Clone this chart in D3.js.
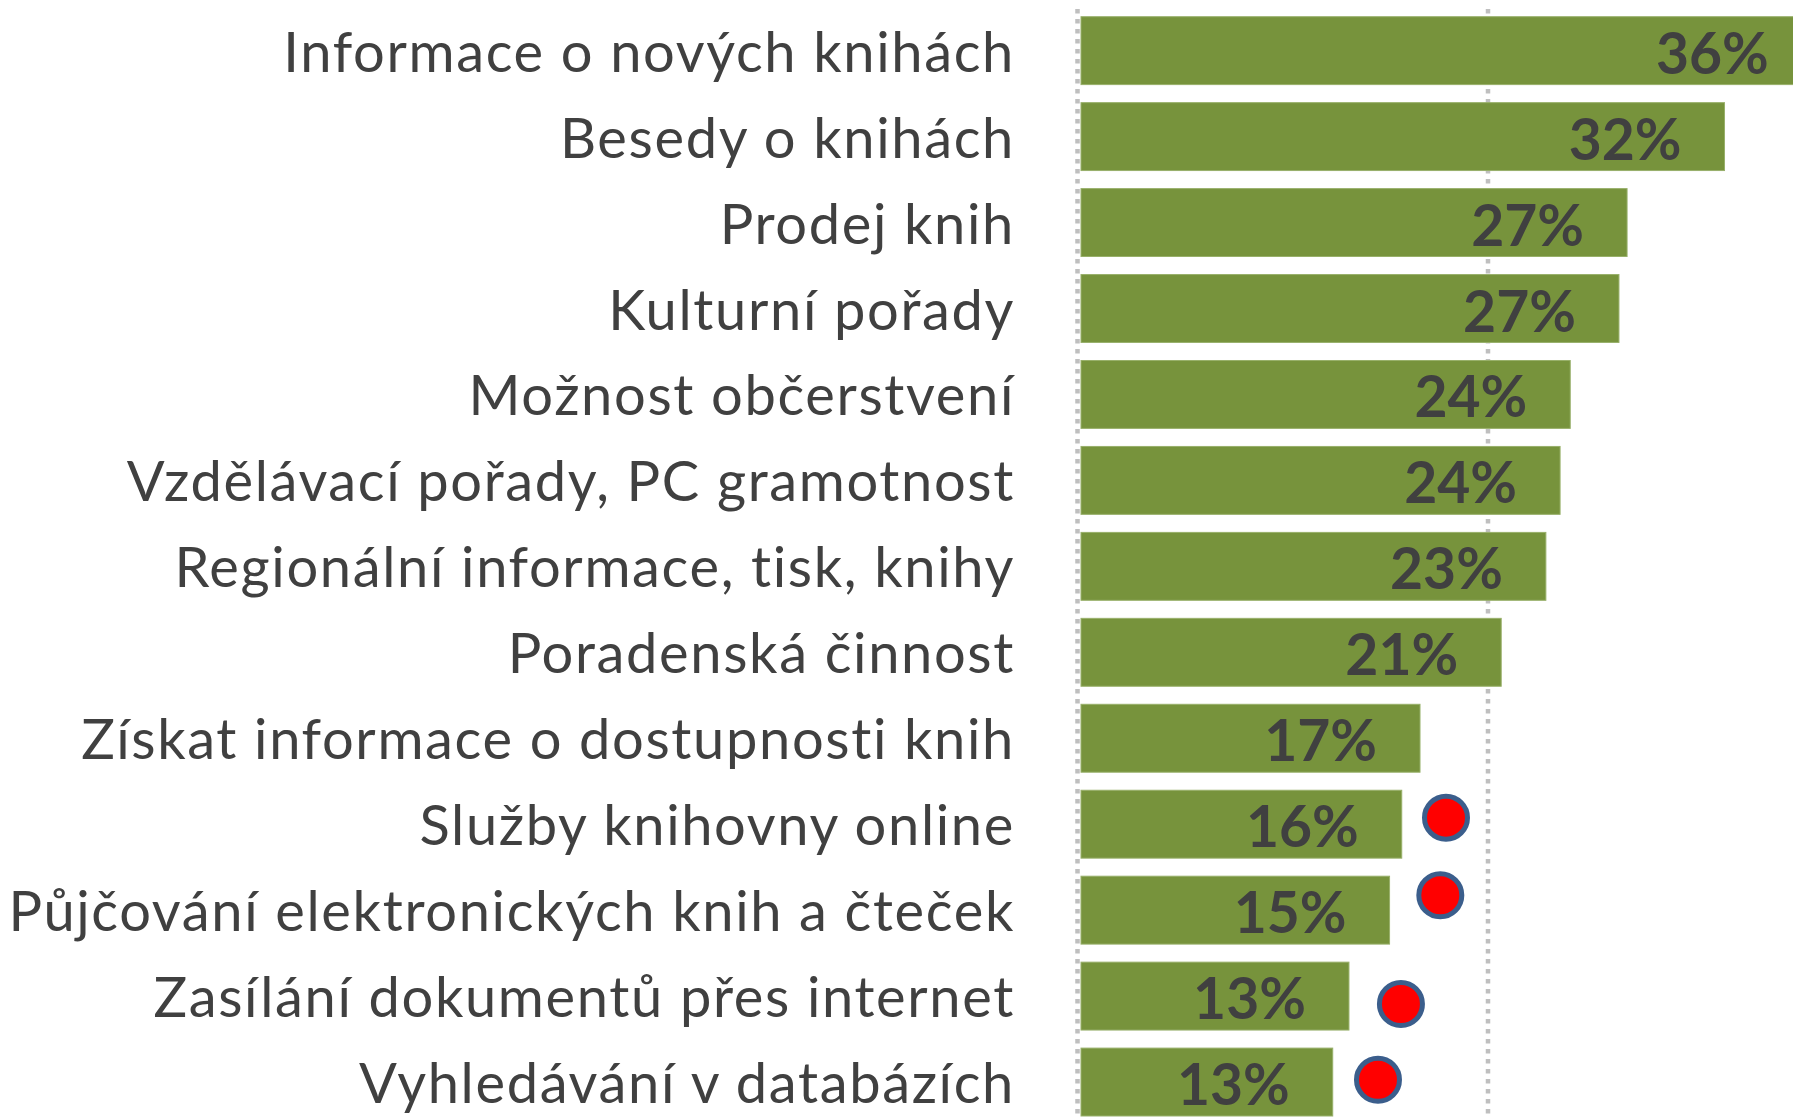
<!DOCTYPE html>
<html>
<head>
<meta charset="utf-8">
<script src="https://cdn.jsdelivr.net/npm/d3@7"></script>
<style>
  html, body { margin: 0; padding: 0; background: #fff; overflow: hidden; }
  svg { display: block; }
  text { font-variant-ligatures: none; }
</style>
</head>
<body>
<svg id="chart" width="1793" height="1119"></svg>
<script>
// ---- data ----
const categories = [
  "Informace o nových knihách",
  "Besedy o knihách",
  "Prodej knih",
  "Kulturní pořady",
  "Možnost občerstvení",
  "Vzdělávací pořady, PC gramotnost",
  "Regionální informace, tisk, knihy",
  "Poradenská činnost",
  "Získat informace o dostupnosti knih",
  "Služby knihovny online",
  "Půjčování elektronických knih a čteček",
  "Zasílání dokumentů přes internet",
  "Vyhledávání v databázích"
];
const values = [36, 31.7, 26.9, 26.5, 24.1, 23.6, 22.9, 20.7, 16.7, 15.8, 15.2, 13.2, 12.4];
const valueLabels = ["36%", "32%", "27%", "27%", "24%", "24%", "23%", "21%", "17%", "16%", "15%", "13%", "13%"];
const gridTicks = [0, 20];
// red markers (value position, row position)
const markerValues = [17.98, 17.7, 15.76, 14.63];
const markerRows = [8.924, 9.827, 11.092, 11.973];

// ---- layout ----
const W = 1793, H = 1119;
const svg = d3.select("#chart");

const x = d3.scaleLinear().domain([0, 20]).range([1081, 1487]);
const y = d3.scaleBand().domain(categories).range([16.7, 1116]).paddingInner(0.21).paddingOuter(0);
const bw = y.bandwidth();
const yRow = d3.scaleLinear().domain([0, categories.length - 1])
  .range([y(categories[0]) + bw / 2, y(categories[categories.length - 1]) + bw / 2]);

const textColor = "#404040";
const barColor = "#77933C";

// grid lines (dotted)
svg.append("g").selectAll("line").data(gridTicks).join("line")
  .attr("x1", d => d === 0 ? x(d) - 3.5 : x(d) + 1)
  .attr("x2", d => d === 0 ? x(d) - 3.5 : x(d) + 1)
  .attr("y1", 9)
  .attr("y2", H)
  .attr("stroke", "#BFBFBF")
  .attr("stroke-width", 4.5)
  .attr("stroke-dasharray", "4.5,5.5");

// bars
svg.append("g").selectAll("rect").data(values).join("rect")
  .attr("x", x(0))
  .attr("y", (d, i) => y(categories[i]))
  .attr("width", d => x(d) - x(0))
  .attr("height", bw)
  .attr("fill", barColor)
  .attr("stroke", "#98B06A")
  .attr("stroke-width", 1);

// value labels
svg.append("g").selectAll("text").data(values).join("text")
  .attr("x", d => x(d) - 43)
  .attr("y", (d, i) => y(categories[i]) + bw / 2 + 23)
  .attr("text-anchor", "end")
  .attr("font-family", "Lato, 'Open Sans', sans-serif")
  .attr("font-weight", 700)
  .attr("font-size", 57)
  .attr("fill", textColor)
  .text((d, i) => valueLabels[i]);

// category labels
svg.append("g").selectAll("text").data(categories).join("text")
  .attr("x", 1015)
  .attr("y", d => y(d) + bw / 2 + 21)
  .attr("text-anchor", "end")
  .attr("font-family", "Lato, 'Open Sans', sans-serif")
  .attr("font-weight", 400)
  .attr("font-size", 56)
  .attr("letter-spacing", 1.65)
  .attr("fill", textColor)
  .text(d => d);

// red markers
svg.append("g").selectAll("circle").data(markerValues).join("circle")
  .attr("cx", d => x(d))
  .attr("cy", (d, i) => yRow(markerRows[i]))
  .attr("r", 21.5)
  .attr("fill", "#FF0000")
  .attr("stroke", "#3B5E8C")
  .attr("stroke-width", 5);
</script>
</body>
</html>
